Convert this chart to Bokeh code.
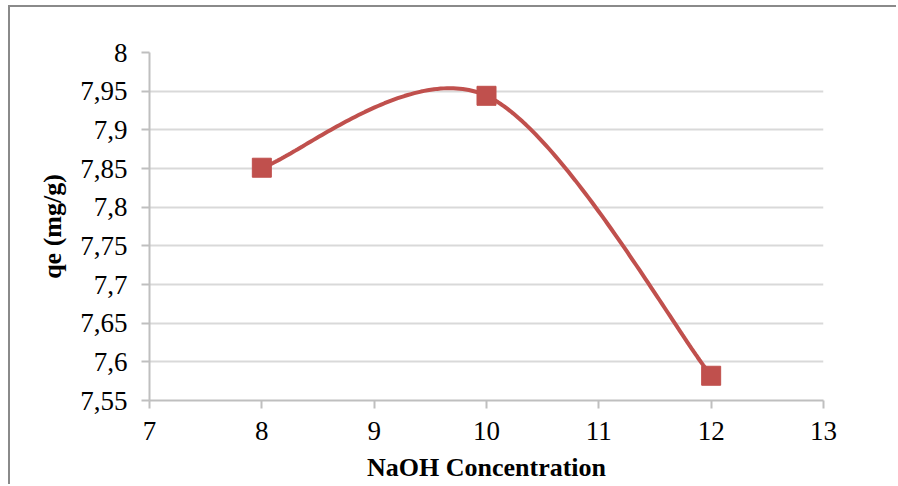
import numpy as np
from bokeh.plotting import figure
from bokeh.models import FixedTicker, Range1d
from bokeh.embed import file_html
from bokeh.resources import INLINE

# Data
naoh = [8, 10, 12]
qe = [7.851, 7.944, 7.582]
x_ticks = [7, 8, 9, 10, 11, 12, 13]
y_ticks = [7.55, 7.6, 7.65, 7.7, 7.75, 7.8, 7.85, 7.9, 7.95, 8.0]
y_tick_labels = ["7,55", "7,6", "7,65", "7,7", "7,75", "7,8", "7,85", "7,9", "7,95", "8"]
x_title = "NaOH Concentration"
y_title = "qe (mg/g)"

SERIES = "#c0504d"
FONT = "Liberation Serif"


def smooth_curve(xs, ys, n=80):
    pts = np.column_stack([xs, ys]).astype(float)
    out = []
    m = len(pts)
    for i in range(m - 1):
        p0 = pts[i - 1] if i > 0 else pts[i]
        p1 = pts[i]
        p2 = pts[i + 1]
        p3 = pts[i + 2] if i + 2 < m else pts[i + 1]
        c1 = p1 + (p2 - p0) / 6.0
        c2 = p2 - (p3 - p1) / 6.0
        t = np.linspace(0, 1, n)[:, None]
        seg = ((1 - t) ** 3) * p1 + 3 * ((1 - t) ** 2) * t * c1 + 3 * (1 - t) * t ** 2 * c2 + t ** 3 * p2
        out.append(seg if i == 0 else seg[1:])
    arr = np.vstack(out)
    return arr[:, 0], arr[:, 1]


cx, cy = smooth_curve(naoh, qe)

p = figure(width=888, height=479, output_backend="svg", toolbar_location=None,
           x_range=Range1d(7, 13), y_range=Range1d(7.55, 8.0),
           min_border_left=139, min_border_right=75, min_border_top=45, min_border_bottom=86)
p.styles = {"margin-left": "8px", "margin-top": "5px",
            "border-left": "2px solid #8a8a8a", "border-top": "2px solid #8a8a8a"}
p.outline_line_color = None
p.background_fill_color = "white"
p.border_fill_color = "white"

p.line(cx, cy, line_color=SERIES, line_width=4)
p.scatter(naoh, qe, marker="square", size=19, fill_color=SERIES, line_color=SERIES)

p.xaxis.ticker = FixedTicker(ticks=x_ticks)
p.yaxis.ticker = FixedTicker(ticks=y_ticks)
p.yaxis.major_label_overrides = {t: l for t, l in zip(y_ticks, y_tick_labels)}

for ax in (p.xaxis, p.yaxis):
    ax.axis_line_color = "#bfbfbf"
    ax.axis_line_width = 2
    ax.major_tick_line_color = "#bfbfbf"
    ax.major_tick_line_width = 2
    ax.major_tick_out = 8
    ax.major_tick_in = 0
    ax.minor_tick_line_color = None
    ax.major_label_text_font = FONT
    ax.major_label_text_font_size = "27px"
    ax.major_label_text_color = "black"
    ax.axis_label_text_font = FONT
    ax.axis_label_text_font_size = "26px"
    ax.axis_label_text_font_style = "bold"
    ax.axis_label_text_color = "black"

p.yaxis.major_label_standoff = 14
p.xaxis.major_label_standoff = 13
p.xaxis.axis_label = x_title
p.yaxis.axis_label = y_title
p.yaxis.axis_label_standoff = 10
p.xaxis.axis_label_standoff = 10

p.xgrid.grid_line_color = None
p.ygrid.grid_line_color = "#d9d9d9"
p.ygrid.grid_line_width = 2

open("out.html", "w").write(file_html(p, INLINE))
